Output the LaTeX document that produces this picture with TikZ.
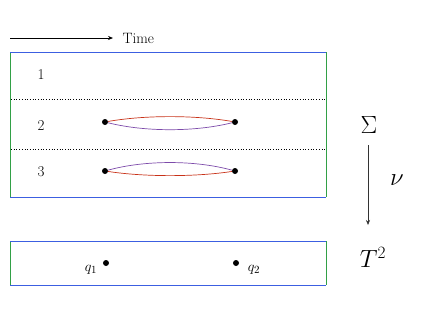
\documentclass[tikz,border=0pt]{standalone}
\usetikzlibrary{arrows.meta}
\definecolor{bblue}{RGB}{60,95,225}
\definecolor{bgreen}{RGB}{50,160,70}
\definecolor{cred}{RGB}{200,50,25}
\definecolor{cpurple}{RGB}{125,75,170}
\tikzset{
  blueedge/.style={draw=bblue,line width=0.9pt},
  greenedge/.style={draw=bgreen,line width=0.9pt},
  dotline/.style={draw=black,dotted,line width=0.7pt},
  dot/.style={circle,fill=black,inner sep=0pt,minimum size=6pt},
  redarc/.style={draw=cred,line width=0.7pt},
  purparc/.style={draw=cpurple,line width=0.7pt},
  lbl/.style={font=\fontsize{15}{18}\selectfont},
  big/.style={font=\fontsize{26}{30}\selectfont},
}
\begin{document}
\begin{tikzpicture}[x=1pt,y=-1pt]
\useasboundingbox (0,0) rectangle (436,327);
% time arrow
\coordinate (t0) at (10,38);
\coordinate (t1) at (113,38);
\draw[-{Stealth[length=5pt,width=4pt]},line width=0.7pt] (t0) -- (t1);
\node[lbl,anchor=west] (time) at (119,38) {Time};
% upper box
\coordinate (ua) at (10,52); \coordinate (ub) at (326,52);
\coordinate (uc) at (326,197); \coordinate (ud) at (10,197);
\draw[greenedge] (ua) -- (ud);
\draw[greenedge] (ub) -- (uc);
\draw[blueedge] (ua) -- (ub);
\draw[blueedge] (ud) -- (uc);
\coordinate (d1a) at (11,99); \coordinate (d1b) at (325,99);
\coordinate (d2a) at (11,149); \coordinate (d2b) at (325,149);
\draw[dotline] (d1a) -- (d1b);
\draw[dotline] (d2a) -- (d2b);
\node[lbl] (n1) at (41,75) {1};
\node[lbl] (n2) at (41,126) {2};
\node[lbl] (n3) at (41,172) {3};
% row 2
\node[dot] (p2a) at (105,122) {};
\node[dot] (p2b) at (235,122) {};
\draw[redarc] (p2a) .. controls (145,115) and (195,115) .. (p2b);
\draw[purparc] (p2a) .. controls (145,132) and (195,132) .. (p2b);
% row 3
\node[dot] (p3a) at (105,171) {};
\node[dot] (p3b) at (235,171) {};
\draw[purparc] (p3a) .. controls (145,160) and (195,160) .. (p3b);
\draw[redarc] (p3a) .. controls (145,177) and (195,177) .. (p3b);
% lower box
\coordinate (la) at (10,241); \coordinate (lb) at (326,241);
\coordinate (lc) at (326,285); \coordinate (ld) at (10,285);
\draw[greenedge] (la) -- (ld);
\draw[greenedge] (lb) -- (lc);
\draw[blueedge] (la) -- (lb);
\draw[blueedge] (ld) -- (lc);
\node[dot] (q1) at (106,263) {};
\node[dot] (q2) at (236,263) {};
\node[lbl] (q1l) at (91,270) {$q_1$};
\node[lbl] (q2l) at (254,270) {$q_2$};
% right side
\node[big] (sig) at (369,125) {$\Sigma$};
\node[big] (tt) at (373,257) {$T^2$};
\node[big] (nu) at (397,180) {$\nu$};
\coordinate (a0) at (368,145);
\coordinate (a1) at (368,225);
\draw[-{Stealth[length=5pt,width=4pt]},line width=0.6pt,draw=black!80] (a0) -- (a1);
\end{tikzpicture}
\end{document}
